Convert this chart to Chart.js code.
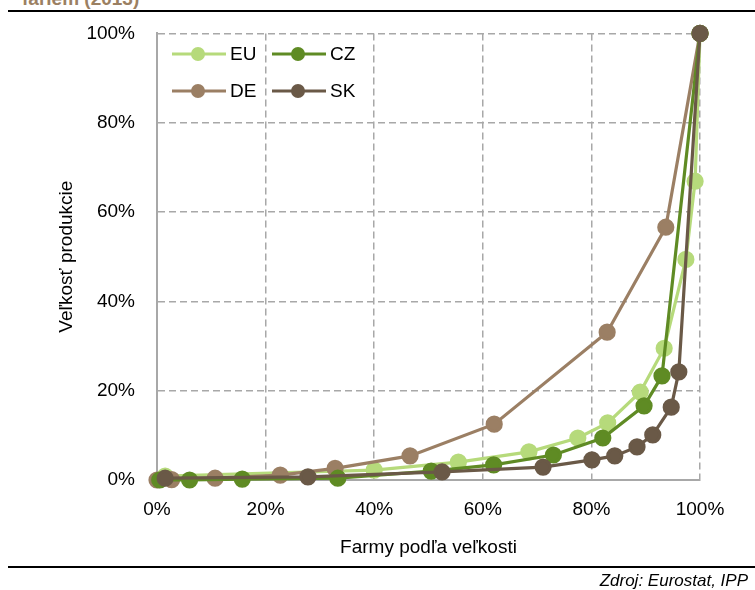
<!DOCTYPE html>
<html>
<head>
<meta charset="utf-8">
<script src="https://cdn.jsdelivr.net/npm/chart.js@4/dist/chart.umd.min.js"></script>
<style>
  body { margin: 0; background: #fff; font-family: "Liberation Sans", Arial, sans-serif; }
  #wrap { position: relative; width: 755px; height: 590px; overflow: hidden; }
  #chart { position: absolute; left: 0; top: 0; }
  .head { position: absolute; left: 22px; top: -12px; font-weight: bold; font-size: 19px; color: #9b8062; }
  .rule { position: absolute; left: 8px; right: 0; height: 2px; background: #000; }
  .src { position: absolute; right: 7px; top: 571px; font-size: 17px; font-style: italic; color: #000; }
</style>
</head>
<body>
<div id="wrap">
  <div class="head">fariem (2013)</div>
  <div class="rule" style="top:10px"></div>
  <canvas id="chart" width="755" height="590"></canvas>
  <div class="rule" style="top:566px"></div>
  <div class="src">Zdroj: Eurostat, IPP</div>
</div>
<script>
// podiel fariem (x) vs. podiel produkcie (y), v %
const euX = [1.5, 40, 55.5, 68.5, 77.5, 83, 89, 93.4, 97.4, 99.1, 100];
const euY = [0.9, 2.2, 4.0, 6.3, 9.4, 12.8, 19.7, 29.5, 49.4, 66.9, 100];

const czX = [0.5, 6, 15.7, 33.3, 50.5, 62, 73, 82.1, 89.7, 93, 100];
const czY = [0, 0, 0.2, 0.4, 2.0, 3.4, 5.6, 9.4, 16.6, 23.3, 100];

const deX = [0, 2.7, 10.7, 22.7, 32.8, 46.6, 62.1, 82.9, 93.7, 100];
const deY = [0, 0.1, 0.4, 1.1, 2.6, 5.4, 12.5, 33.1, 56.6, 100];

const skX = [1.5, 27.8, 52.5, 71.1, 80.1, 84.3, 88.4, 91.3, 94.7, 96.1, 100];
const skY = [0.4, 0.7, 1.8, 2.9, 4.5, 5.4, 7.4, 10.1, 16.3, 24.2, 100];

const ticks = [0, 20, 40, 60, 80, 100];

const pts = (xs, ys) => xs.map((x, i) => ({ x: x, y: ys[i] }));

function series(label, xs, ys, color, order) {
  return {
    label, data: pts(xs, ys), order, clip: false,
    borderColor: color, backgroundColor: color,
    pointBackgroundColor: color, pointBorderColor: color,
    borderWidth: 3.2, pointRadius: 7, pointHoverRadius: 7, tension: 0
  };
}

const datasets = [
  series("EU", euX, euY, "#b6da7b", 3),
  series("CZ", czX, czY, "#5f8b24", 1),
  series("DE", deX, deY, "#9b7f64", 2),
  series("SK", skX, skY, "#6a5947", 0)
];

// legenda vo vnutri grafu (2 stlpce)
const legendSpots = { EU: [172, 54], CZ: [272, 54], DE: [172, 91], SK: [272, 91] };
const insideLegend = {
  id: "insideLegend",
  afterDraw(chart) {
    const ctx = chart.ctx;
    ctx.save();
    chart.data.datasets.forEach(ds => {
      const [x, y] = legendSpots[ds.label];
      ctx.strokeStyle = ds.borderColor;
      ctx.lineWidth = 3.2;
      ctx.beginPath(); ctx.moveTo(x, y); ctx.lineTo(x + 54, y); ctx.stroke();
      ctx.fillStyle = ds.borderColor;
      ctx.beginPath(); ctx.arc(x + 26, y, 7, 0, Math.PI * 2); ctx.fill();
      ctx.fillStyle = "#000";
      ctx.font = "19px 'Liberation Sans', Arial, sans-serif";
      ctx.textBaseline = "middle";
      ctx.fillText(ds.label, x + 58, y + 1);
    });
    ctx.restore();
  }
};

const axisFont = { family: "'Liberation Sans', Arial, sans-serif", size: 19 };
const gridOpts = { color: "#a8a8a8", lineWidth: 1.5, drawTicks: false };

new Chart(document.getElementById("chart"), {
  type: "line",
  data: { datasets },
  plugins: [insideLegend],
  options: {
    responsive: false,
    animation: false,
    layout: { padding: { top: 33, right: 55, left: 0, bottom: 0 } },
    plugins: { legend: { display: false }, tooltip: { enabled: false } },
    scales: {
      x: {
        type: "linear", min: 0, max: 100,
        afterBuildTicks: s => { s.ticks = ticks.map(v => ({ value: v })); },
        afterFit: s => { s.height = 110; },
        ticks: { color: "#000", font: axisFont, padding: 18, callback: v => v + "%" },
        grid: gridOpts,
        border: { display: true, color: "#a8a8a8", width: 2, dash: [7, 4] },
        title: { display: true, text: "Farmy podľa veľkosti", color: "#000", font: axisFont, padding: { top: 31, bottom: 31 } }
      },
      y: {
        min: 0, max: 100,
        afterBuildTicks: s => { s.ticks = ticks.map(v => ({ value: v })); },
        afterFit: s => { s.width = 157; },
        ticks: { color: "#000", font: axisFont, padding: 22, callback: v => v + "%" },
        grid: gridOpts,
        border: { display: true, color: "#a8a8a8", width: 2, dash: [7, 4] },
        title: { display: true, text: "Veľkosť produkcie", color: "#000", font: axisFont, padding: { top: 55, bottom: 55 } }
      }
    }
  }
});
</script>
</body>
</html>
